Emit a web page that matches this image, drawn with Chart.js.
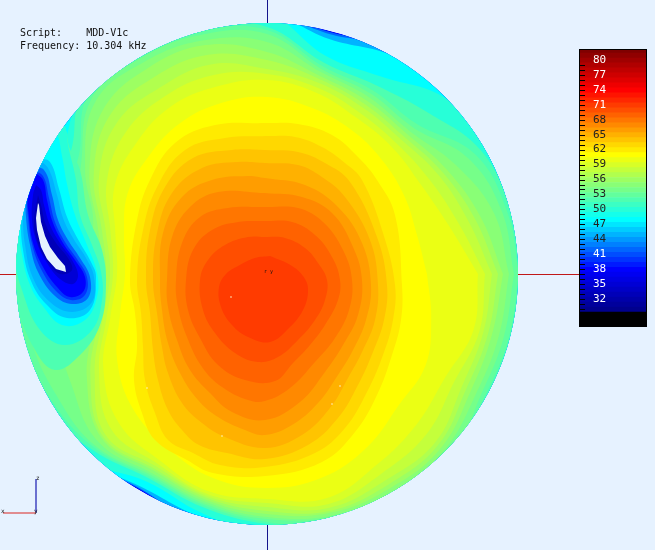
<!DOCTYPE html>
<html>
<head>
<meta charset="utf-8">
<title>MDD-V1c</title>
<script src="https://cdn.jsdelivr.net/npm/chart.js@4/dist/chart.umd.min.js"></script>
<style>
body { margin: 0; background: #e6f2ff; overflow: hidden; }
#stage { position: relative; width: 655px; height: 550px; }
#stage canvas { position: absolute; left: 0; top: 0; }
#scaleCanvas { left: 580px !important; top: 50px !important; }
#scaleBox { position: absolute; left: 579px; top: 49px; width: 66px; height: 276px; border: 1px solid #000; }
.note { position: absolute; font-family: "DejaVu Sans Mono", monospace; color: #111; white-space: pre; }
</style>
</head>
<body>
<div id="stage">
  <canvas id="axesCanvas" width="655" height="550"></canvas>
  <canvas id="discCanvas" width="655" height="550"></canvas>
  <div id="scaleBox"></div>
  <canvas id="scaleCanvas" width="66" height="276"></canvas>
  <div class="note" style="left:20px;top:26px;font-size:10px;line-height:13px">Script:    MDD-V1c
Frequency: 10.304 kHz</div>
  <div class="note" style="left:264px;top:268px;font-size:5px;line-height:6px">r y</div>
  <div class="note" style="left:36px;top:475px;font-size:6px;line-height:6px">z</div>
  <div class="note" style="left:1px;top:508px;font-size:6px;line-height:6px">x</div>
  <div class="note" style="left:34px;top:508px;font-size:6px;line-height:6px">y</div>
</div>
<script>
// outer level contours: radius from the disc centre at each bearing (degrees), level in dB
const bearings = [0,15,30,45,60,75,90,105,120,135,150,165,180,195,210,225,240,255,270,285,300,315,330,345];
const r61 = [160,155,158,162,167,172,177,177,174,167,161,148,142,152,173,190,200,211,214,211,200,186,183,170];
const r60 = [211,188,178,178,180,188,194,194,193,185,176,157,150,162,189,210,215,225,225,232,220,212,206,214];
const r59 = [218,198,188,184,186,193,200,206,205,200,185,162,154,166,194,220,219,228,229,238,230,226,216,220];
const r58 = [225,208,198,190,192,198,205,217,215,213,194,167,157,170,199,228,222,230,233,242,238,238,225,224];
const r57 = [231,215,203,194,196,202,214,227,227,223,200,171,161,174,204,231,225,232,237,245,243,242,230,229];
const r56 = [236,221,208,198,200,205,222,237,238,232,205,175,164,178,208,233,227,234,240,247,247,246,235,233];
const r55 = [242,235,218,202,204,209,232,242,245,243,210,180,190,215,225,238,230,236,243,250,252,250,241,240];
const r54 = [247,243,232,207,208,212,240,248,250,248,215,200,245,245,243,243,232,238,245,252,260,260,246,245];
const r53 = [252,248,240,212,212,215,244,252,254,253,220,230,260,255,250,245,234,240,248,260,260,260,250,250];
const r52 = [260,252,247,228,218,219,247,260,260,260,230,250,260,260,260,248,236,242,250,260,260,260,254,254];
const r50 = [260,260,260,250,228,226,260,260,260,260,240,260,260,260,260,260,240,248,260,260,260,260,260,260];
const r48 = [260,260,260,260,252,243,260,260,260,260,255,260,260,260,260,260,247,252,260,260,260,260,260,260];
const r45 = [260,260,260,260,260,248,260,260,260,260,260,260,260,260,260,260,249,260,260,260,260,260,260,260];
const r42 = [260,260,260,260,260,250,260,260,260,260,260,260,260,260,260,260,250,260,260,260,260,260,260,260];
const r38 = [260,260,260,260,260,251,260,260,260,260,260,260,260,260,260,260,251,260,260,260,260,260,260,260];

// inner level contours, x/y on the disc plane
const c71x = [3,25,38,41,36,23,3,-19,-35,-46,-48,-41,-29,-12];
const c71y = [18,8,-5,-18,-36,-53,-68,-63,-51,-33,-13,0,8,16];
const c70x = [-2,18,38,51,60,58,48,31,11,-9,-32,-52,-64,-67,-59,-42,-19];
const c70y = [37,36,26,11,-6,-26,-46,-66,-83,-88,-79,-59,-36,-6,14,29,37];
const c69x = [-2,25,48,65,73,71,58,43,26,8,-22,-49,-67,-79,-81,-74,-55,-29];
const c69y = [53,52,39,17,-6,-26,-51,-71,-89,-107,-106,-91,-64,-36,-6,24,44,52];
const c68x = [-2,31,56,76,85,82,68,48,23,-2,-19,-45,-65,-80,-89,-91,-85,-67,-39];
const c68y = [67,66,52,24,-6,-36,-64,-88,-114,-127,-126,-113,-93,-63,-33,-6,31,57,66];
const c67x = [-2,35,65,86,95,91,76,58,33,-2,-35,-57,-77,-90,-99,-100,-95,-77,-49];
const c67y = [81,77,61,27,-6,-41,-71,-98,-128,-146,-138,-119,-96,-66,-33,-6,37,67,82];
const c66x = [-2,38,71,95,104,99,86,71,51,25,-2,-22,-49,-69,-87,-99,-105,-107,-104,-85,-55,-19];
const c66y = [96,89,67,31,-11,-46,-76,-101,-129,-151,-161,-156,-143,-126,-99,-69,-36,-6,41,77,94,98];
const c65x = [-2,31,55,78,103,111,108,96,81,63,35,-2,-42,-65,-85,-99,-105,-110,-114,-110,-95,-65,-29];
const c65y = [111,109,97,77,34,-11,-46,-76,-104,-134,-161,-174,-163,-149,-129,-99,-73,-39,-6,41,81,106,112];
const c64x = [-2,31,58,83,110,120,117,106,91,71,41,-2,-40,-68,-85,-99,-109,-114,-117,-121,-117,-102,-74,-35];
const c64y = [124,122,111,92,37,-11,-46,-78,-111,-144,-171,-185,-179,-171,-156,-136,-106,-76,-39,-6,44,87,116,124];
const c63x = [-2,28,55,78,95,116,128,126,116,100,78,48,-2,-47,-74,-99,-112,-122,-124,-126,-130,-124,-110,-82,-42];
const c63y = [138,137,127,111,94,41,-11,-46,-81,-118,-154,-179,-193,-191,-179,-166,-139,-106,-73,-39,-6,44,87,124,136];
const c62x = [-2,31,65,91,110,128,135,134,125,110,88,55,-2,-54,-80,-112,-125,-133,-130,-132,-137,-130,-117,-92,-52];
const c62y = [151,150,139,117,94,59,-11,-46,-81,-121,-158,-188,-202,-199,-186,-166,-139,-106,-73,-39,-6,54,94,131,149];

// low pocket near the left rim
const left52x = [-245,-225,-205,-197,-187,-179,-165,-161,-167,-187,-212,-232,-252,-257,-252];
const left52y = [94,135,150,125,104,59,24,-11,-51,-81,-96,-76,-26,14,54];
const left50x = [-242,-222,-205,-198,-191,-187,-175,-166,-165,-175,-202,-227,-245,-253,-252];
const left50y = [99,139,152,124,94,59,29,2,-26,-56,-71,-56,-16,19,49];
const left48x = [-237,-222,-211,-205,-200,-192,-180,-170,-170,-182,-205,-225,-237,-245,-248,-244];
const left48y = [109,129,140,118,90,59,29,1,-23,-46,-51,-31,-11,19,49,84];
const left46x = [-238,-228,-217,-208,-200,-188,-176,-171,-177,-200,-221,-236,-244,-246,-243];
const left46y = [106,114,112,85,57,33,12,-3,-36,-44,-30,-7,24,54,84];
const left45x = [-239,-229,-219,-210,-204,-194,-181,-173,-175,-195,-217,-234,-242,-244,-242];
const left45y = [102,112,106,79,56,36,16,-3,-28,-38,-28,-4,29,59,84];
const left42x = [-237,-223,-215,-209,-199,-187,-177,-179,-195,-212,-229,-237,-241,-241];
const left42y = [106,104,79,54,34,16,-3,-24,-30,-22,2,29,57,84];
const left40x = [-235,-224,-218,-212,-202,-190,-180,-182,-196,-211,-226,-235,-239,-240];
const left40y = [104,98,76,52,32,15,-3,-21,-26,-17,5,30,57,81];
const left38x = [-233,-224,-220,-214,-204,-192,-182,-184,-197,-210,-224,-234,-238,-239];
const left38y = [102,94,74,51,31,14,-3,-18,-23,-13,7,31,57,79];
const left35x = [-231,-226,-223,-217,-207,-195,-189,-194,-207,-220,-230,-235,-234];
const left35y = [89,84,69,49,31,14,-1,-10,-5,11,31,54,79];
const left33x = [-229,-226,-221,-211,-199,-195,-207,-219,-229,-233];
const left33y = [79,69,49,31,16,4,0,12,31,52];
// below the plotted range, left empty in the original
const holeX = [-229,-231,-230,-226,-220,-211,-201,-202,-209,-217,-222,-226,-228];
const holeY = [71,56,44,27,15,5,2,8,16,27,38,52,69];

// stray samples on the disc
const speckX = [-36,73,65,-45,-120];
const speckY = [-23,-112,-130,-162,-114];

// colour scale
const tickValues = [80,77,74,71,68,65,62,59,56,53,50,47,44,41,38,35,32];
const markLevels = [30,31,32,33,34,35,36,37,38,39,40,41,42,43,44,45,46,47,48,49,50,51,52,53,54,55,56,57,58,59,60,61,62,63,64,65,66,67,68,69,70,71,72,73,74,75,76,77,78,79];
const scaleLevels = [30,31,32,33,34,35,36,37,38,39,40,41,42,43,44,45,46,47,48,49,50,51,52,53,54,55,56,57,58,59,60,61,62,63,64,65,66,67,68,69,70,71,72,73,74,75,76,77,78,79,80,81,82];
const baseLevel = 35;
const discRadius = 251;

const stopLevels = [29, 38, 48, 61, 74, 82];
const stopColors = [[0,0,128],[0,0,255],[0,255,255],[255,255,0],[255,0,0],[128,0,0]];

function levelColor(v) {
    let i = 0;
    while (i < stopLevels.length - 2 && v > stopLevels[i + 1]) i++;
    const t = Math.min(1, Math.max(0, (v - stopLevels[i]) / (stopLevels[i + 1] - stopLevels[i])));
    const rgb = stopColors[i].map((c, k) => Math.round(c + (stopColors[i + 1][k] - c) * t));
    return `rgb(${rgb[0]},${rgb[1]},${rgb[2]})`;
}

function shape(points, color, tension) {
    points.push(points[0]);
    return {
        data: points,
        showLine: true,
        fill: 'shape',
        backgroundColor: color,
        borderWidth: 0,
        pointRadius: 0,
        tension: tension
    };
}

function contour(xs, ys, level) {
    return shape(xs.map((x, i) => ({ x: x, y: ys[i] })), levelColor(level), 0.4);
}

function ring(radii, level) {
    const pts = radii.map((r, i) => ({
        x: r * Math.cos(bearings[i] * Math.PI / 180),
        y: r * Math.sin(bearings[i] * Math.PI / 180)
    }));
    return shape(pts, levelColor(level), 0.4);
}

function segment(xs, ys, color, width) {
    return {
        data: xs.map((x, i) => ({ x: x, y: ys[i] })),
        showLine: true,
        borderColor: color,
        borderWidth: width,
        pointRadius: 0
    };
}

function planeOptions() {
    return {
        responsive: false,
        animation: false,
        layout: { padding: 0, autoPadding: false },
        scales: {
            x: { type: 'linear', min: -267, max: 388, display: false },
            y: { type: 'linear', min: -276, max: 274, display: false }
        },
        plugins: { legend: { display: false }, tooltip: { enabled: false } }
    };
}

// Axis lines and the small triad, behind the disc
new Chart(document.getElementById('axesCanvas'), {
    type: 'scatter',
    data: {
        datasets: [
            segment([0.5, 0.5], [274, -276], '#14148c', 1),
            segment([-267, 313], [-0.5, -0.5], '#c01818', 1),
            segment([-264, -231], [-239, -239], '#e08c90', 2),
            segment([-231, -231], [-239, -205], '#6a70d0', 2)
        ]
    },
    options: planeOptions()
});

// Disc: lowest level first, each higher contour painted over it, then the left pocket
const discSets = [
    { data: [{ x: 0, y: 0 }], pointRadius: discRadius, pointHoverRadius: discRadius, borderWidth: 0, backgroundColor: levelColor(baseLevel) },
    ring(r38, 38), ring(r42, 42), ring(r45, 45), ring(r48, 48), ring(r50, 50),
    ring(r52, 52), ring(r53, 53), ring(r54, 54), ring(r55, 55), ring(r56, 56),
    ring(r57, 57), ring(r58, 58), ring(r59, 59), ring(r60, 60), ring(r61, 61),
    contour(c62x, c62y, 62), contour(c63x, c63y, 63), contour(c64x, c64y, 64),
    contour(c65x, c65y, 65), contour(c66x, c66y, 66), contour(c67x, c67y, 67),
    contour(c68x, c68y, 68), contour(c69x, c69y, 69), contour(c70x, c70y, 70),
    contour(c71x, c71y, 71),
    contour(left52x, left52y, 52), contour(left50x, left50y, 50), contour(left48x, left48y, 48),
    contour(left46x, left46y, 46), contour(left45x, left45y, 45), contour(left42x, left42y, 42),
    contour(left40x, left40y, 40), contour(left38x, left38y, 38), contour(left35x, left35y, 35),
    contour(left33x, left33y, 33),
    shape(holeX.map((x, i) => ({ x: x, y: holeY[i] })), '#e6f2ff', 0),
    { data: speckX.map((x, i) => ({ x: x, y: speckY[i] })), pointRadius: 0.8, borderWidth: 0, backgroundColor: '#fff6c8' }
];
discSets.forEach((d, i) => { d.order = -i; });

// keep every contour inside the disc
const discClip = {
    id: 'discClip',
    beforeDatasetsDraw(chart) {
        const c = chart.ctx;
        const cx = chart.scales.x.getPixelForValue(0);
        const cy = chart.scales.y.getPixelForValue(0);
        const r = chart.scales.x.getPixelForValue(discRadius) - cx;
        c.save();
        c.beginPath();
        c.arc(cx, cy, r, 0, Math.PI * 2);
        c.clip();
    },
    afterDatasetsDraw(chart) {
        chart.ctx.restore();
    }
};

new Chart(document.getElementById('discCanvas'), {
    type: 'scatter',
    data: { datasets: discSets },
    options: planeOptions(),
    plugins: [discClip]
});

// Colour scale: black floor, then one stacked band per dB
const scaleSets = [{ data: [29.4], backgroundColor: '#000', barPercentage: 1, categoryPercentage: 1 }];
scaleLevels.forEach(v => {
    scaleSets.push({ data: [1], backgroundColor: levelColor(v), barPercentage: 1, categoryPercentage: 1 });
});

const scaleTicks = {
    id: 'scaleTicks',
    afterDatasetsDraw(chart) {
        const c = chart.ctx;
        c.save();
        c.strokeStyle = '#000';
        c.lineWidth = 1;
        markLevels.forEach(v => {
            const y = Math.round(chart.scales.y.getPixelForValue(v)) + 0.5;
            c.beginPath();
            c.moveTo(0, y);
            c.lineTo(5, y);
            c.stroke();
        });
        c.restore();
    }
};

new Chart(document.getElementById('scaleCanvas'), {
    type: 'bar',
    data: { labels: ['dB'], datasets: scaleSets },
    options: {
        responsive: false,
        animation: false,
        layout: { padding: 0, autoPadding: false },
        scales: {
            x: { stacked: true, display: false },
            y: {
                stacked: true,
                min: 26.6,
                max: 82,
                afterBuildTicks: axis => { axis.ticks = tickValues.map(v => ({ value: v })); },
                afterFit: axis => { axis.width = 0; axis.paddingTop = 0; axis.paddingBottom = 0; },
                grid: { display: false },
                border: { display: false },
                ticks: {
                    mirror: true,
                    padding: 13,
                    autoSkip: false,
                    font: { family: 'DejaVu Sans Mono', size: 11 },
                    color: ctx => (ctx.tick.value > 70 || ctx.tick.value < 42) ? '#fff' : '#222',
                    z: 2
                }
            }
        },
        plugins: { legend: { display: false }, tooltip: { enabled: false } }
    },
    plugins: [scaleTicks]
});
</script>
</body>
</html>
